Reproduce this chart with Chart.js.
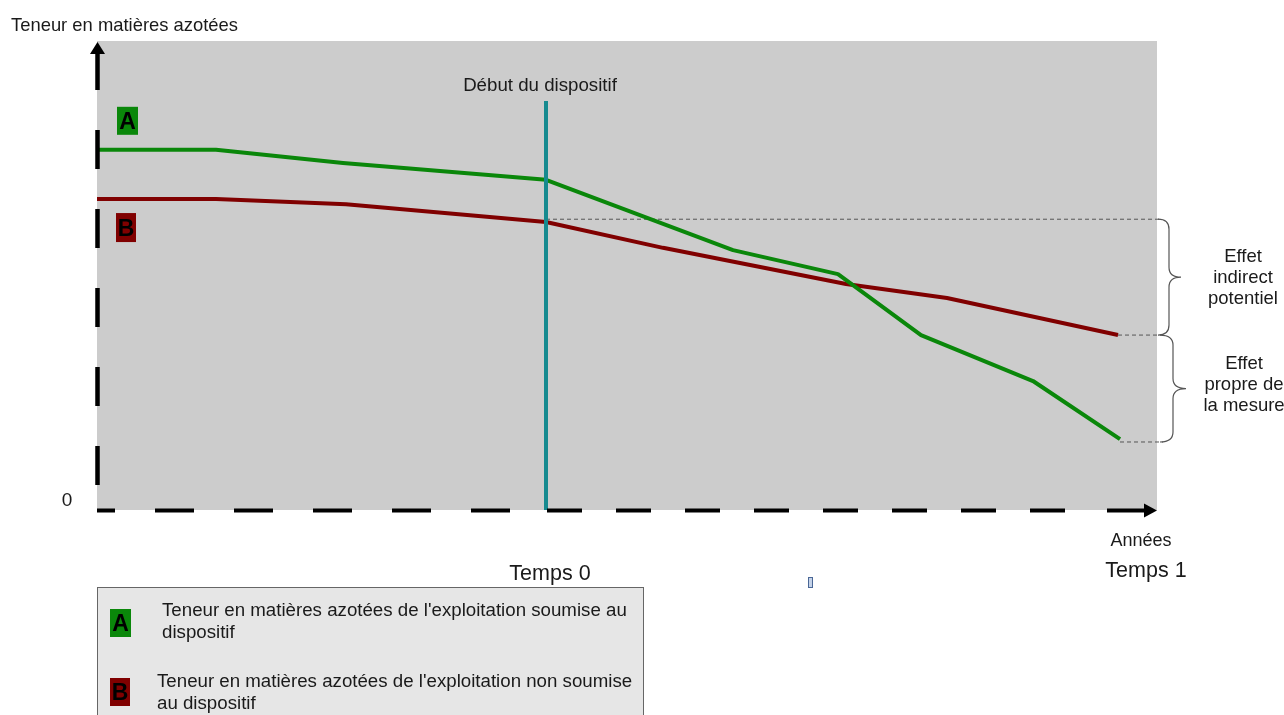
<!DOCTYPE html>
<html lang="fr">
<head>
<meta charset="utf-8">
<title>Teneur en matières azotées</title>
<script src="https://cdn.jsdelivr.net/npm/chart.js@4.4.1/dist/chart.umd.min.js"></script>
<style>
  html, body { margin: 0; padding: 0; background: #fff; }
  #wrap { width: 1284px; height: 715px; }
</style>
</head>
<body>
<div id="wrap"><canvas id="chart" width="1284" height="715"></canvas></div>
<script>
// time in years relative to the start of the measure (Temps 0 = 0), nitrogen content in arbitrary units
const yearsA = [-4.49, -3.30, -2.03, 0, 1.87, 2.92, 3.75, 4.87, 5.74];
const teneurA = [76.8, 76.8, 74.0, 70.4, 55.4, 50.3, 37.3, 27.5, 15.1];
const yearsB = [-4.49, -3.30, -2.00, 0, 1.17, 3.00, 4.01, 5.72];
const teneurB = [66.3, 66.3, 65.2, 61.4, 55.9, 48.2, 45.2, 37.3];

// "Début du dispositif" marker
const debutYear = 0;
const debutTop = 87.2;

// reference levels for the two effects
const levelT0 = 62.0;   // B at Temps 0
const levelB1 = 37.3;   // B at Temps 1
const levelA1 = 14.5;   // A at Temps 1
const levelEnd = 6.14;

const timeLabels = ["Temps 0", "Temps 1"];
const timeLabelYears = [0.04, 6.0];
const effetIndirect = ["Effet", "indirect", "potentiel"];
const effetPropre = ["Effet", "propre de", "la mesure"];
const legendA = ["Teneur en matières azotées de l'exploitation soumise au", "dispositif"];
const legendB = ["Teneur en matières azotées de l'exploitation non soumise", "au dispositif"];

const GREEN = '#0a870a';
const RED = '#800000';
const TEAL = '#168a8f';
const FONT = "'Liberation Sans', Arial, sans-serif";

function toPoints(xs, ys) {
  return xs.map((x, i) => ({ x: x, y: ys[i] }));
}

function letterBox(ctx, x, y, w, h, color, letter) {
  ctx.fillStyle = color;
  ctx.fillRect(x, y, w, h);
  ctx.fillStyle = '#000';
  ctx.font = 'bold 23px ' + FONT;
  ctx.textAlign = 'center';
  ctx.textBaseline = 'middle';
  ctx.fillText(letter, x + w / 2, y + h / 2 + 2);
}

function brace(ctx, x, y1, y2, mid, tip) {
  const ym = (y1 + y2) / 2;
  const r = 10;
  ctx.beginPath();
  ctx.moveTo(x, y1);
  ctx.quadraticCurveTo(mid, y1, mid, y1 + r);
  ctx.lineTo(mid, ym - r);
  ctx.quadraticCurveTo(mid, ym, tip, ym);
  ctx.quadraticCurveTo(mid, ym, mid, ym + r);
  ctx.lineTo(mid, y2 - r);
  ctx.quadraticCurveTo(mid, y2, x, y2);
  ctx.stroke();
}

// canvas "middle" sits a bit high for this font, nudge down
function text(ctx, str, x, y, size, align) {
  ctx.font = size + 'px ' + FONT;
  ctx.textAlign = align || 'center';
  ctx.textBaseline = 'middle';
  ctx.fillStyle = '#1a1a1a';
  ctx.fillText(str, x, y + 2);
}

const decor = {
  id: 'decor',
  beforeDraw(chart) {
    const { ctx, chartArea: a } = chart;
    ctx.save();
    ctx.fillStyle = '#cccccc';
    ctx.fillRect(a.left, a.top, a.right - a.left, a.bottom - a.top);
    ctx.restore();
  },
  afterDraw(chart) {
    const { ctx, chartArea: a, scales } = chart;
    const sx = scales.x, sy = scales.y;
    ctx.save();

    // dashed axes
    ctx.strokeStyle = '#000';
    ctx.lineCap = 'butt';
    ctx.lineWidth = 4.5;
    const ax = a.left + 0.5;
    ctx.setLineDash([39, 40]);
    ctx.lineDashOffset = 69;
    ctx.beginPath();
    ctx.moveTo(ax, a.top);
    ctx.lineTo(ax, a.bottom);
    ctx.stroke();

    const ay = a.bottom + 0.5;
    const x0 = sx.getPixelForValue(debutYear);
    ctx.lineWidth = 4;
    ctx.lineDashOffset = 21;
    ctx.beginPath();
    ctx.moveTo(a.left, ay);
    ctx.lineTo(x0, ay);
    ctx.stroke();
    ctx.setLineDash([35, 34]);
    ctx.lineDashOffset = 0;
    ctx.beginPath();
    ctx.moveTo(x0 + 1, ay);
    ctx.lineTo(a.right - 90, ay);
    ctx.stroke();
    ctx.setLineDash([]);
    ctx.beginPath();
    ctx.moveTo(a.right - 50, ay);
    ctx.lineTo(a.right - 10, ay);
    ctx.stroke();

    // arrow heads
    ctx.fillStyle = '#000';
    ctx.beginPath();
    ctx.moveTo(ax, a.top + 1);
    ctx.lineTo(ax + 7.5, a.top + 13);
    ctx.lineTo(ax - 7.5, a.top + 13);
    ctx.closePath();
    ctx.fill();
    ctx.beginPath();
    ctx.moveTo(a.right, ay);
    ctx.lineTo(a.right - 13, ay - 7);
    ctx.lineTo(a.right - 13, ay + 7);
    ctx.closePath();
    ctx.fill();

    // braces
    ctx.strokeStyle = '#555';
    ctx.lineWidth = 1.2;
    const yT0 = sy.getPixelForValue(levelT0);
    const yB1 = sy.getPixelForValue(levelB1);
    const yA1 = sy.getPixelForValue(levelA1);
    brace(ctx, a.right + 1, yT0, yB1, a.right + 12, a.right + 24);
    brace(ctx, a.right + 3, yB1, yA1, a.right + 16, a.right + 29);

    // series letters in the plot
    letterBox(ctx, sx.getPixelForValue(yearsA[0]) + 20, sy.getPixelForValue(teneurA[0]) - 43, 21, 28, GREEN, 'A');
    letterBox(ctx, sx.getPixelForValue(yearsB[0]) + 19, sy.getPixelForValue(teneurB[0]) + 14, 20, 29, RED, 'B');

    // texts
    text(ctx, 'Teneur en matières azotées', 11, 24, 18.4, 'left');
    text(ctx, 'Début du dispositif', x0 - 6, 84, 18.7);
    text(ctx, '0', 67, 499, 19);
    text(ctx, 'Années', 1141, 539, 18);
    text(ctx, timeLabels[0], sx.getPixelForValue(timeLabelYears[0]), 572, 21.5);
    text(ctx, timeLabels[1], sx.getPixelForValue(timeLabelYears[1]), 569, 21.5);
    effetIndirect.forEach((s, i) => text(ctx, s, 1243, 255 + i * 21, 18.5));
    effetPropre.forEach((s, i) => text(ctx, s, 1244, 362 + i * 21, 18.5));

    // legend box
    ctx.fillStyle = '#e6e6e6';
    ctx.fillRect(97, 587, 546, 140);
    ctx.strokeStyle = '#666';
    ctx.lineWidth = 1;
    ctx.strokeRect(97.5, 587.5, 546, 140);
    letterBox(ctx, 110, 609, 21, 28, GREEN, 'A');
    letterBox(ctx, 110, 678, 20, 28, RED, 'B');
    legendA.forEach((s, i) => text(ctx, s, 162, 609 + i * 22, 18.7, 'left'));
    legendB.forEach((s, i) => text(ctx, s, 157, 680 + i * 22, 18.7, 'left'));

    // small stray mark
    ctx.fillStyle = '#c4d2e8';
    ctx.fillRect(809, 578, 3, 9);
    ctx.strokeStyle = '#4a6796';
    ctx.strokeRect(808.5, 577.5, 4, 10);

    ctx.restore();
  }
};

new Chart(document.getElementById('chart'), {
  type: 'line',
  data: {
    datasets: [
      {
        label: 'Début du dispositif',
        data: toPoints([debutYear, debutYear], [debutTop, 0]),
        borderColor: TEAL,
        borderWidth: 4,
        pointRadius: 0,
        order: -1
      },
      {
        label: 'A',
        data: toPoints(yearsA, teneurA),
        borderColor: GREEN,
        borderWidth: 4,
        borderJoinStyle: 'round',
        pointRadius: 0
      },
      {
        label: 'B',
        data: toPoints(yearsB, teneurB),
        borderColor: RED,
        borderWidth: 4,
        borderJoinStyle: 'round',
        pointRadius: 0
      },
      {
        label: 'niveau Temps 0',
        data: toPoints([debutYear, levelEnd], [levelT0, levelT0]),
        borderColor: '#555',
        borderWidth: 1,
        borderDash: [4, 3],
        pointRadius: 0,
        clip: false
      },
      {
        label: 'niveau B',
        data: toPoints([yearsB[yearsB.length - 1], levelEnd], [levelB1, levelB1]),
        borderColor: '#555',
        borderWidth: 1,
        borderDash: [4, 3],
        pointRadius: 0,
        clip: false
      },
      {
        label: 'niveau A',
        data: toPoints([yearsA[yearsA.length - 1], levelEnd + 0.03], [levelA1, levelA1]),
        borderColor: '#555',
        borderWidth: 1,
        borderDash: [4, 3],
        pointRadius: 0,
        clip: false
      }
    ]
  },
  options: {
    responsive: false,
    animation: false,
    events: [],
    layout: { padding: { left: 97, right: 127, top: 41, bottom: 205 } },
    plugins: { legend: { display: false }, tooltip: { enabled: false } },
    scales: {
      x: { type: 'linear', min: -4.49, max: 6.11, display: false },
      y: { type: 'linear', min: 0, max: 100, display: false }
    }
  },
  plugins: [decor]
});
</script>
</body>
</html>
